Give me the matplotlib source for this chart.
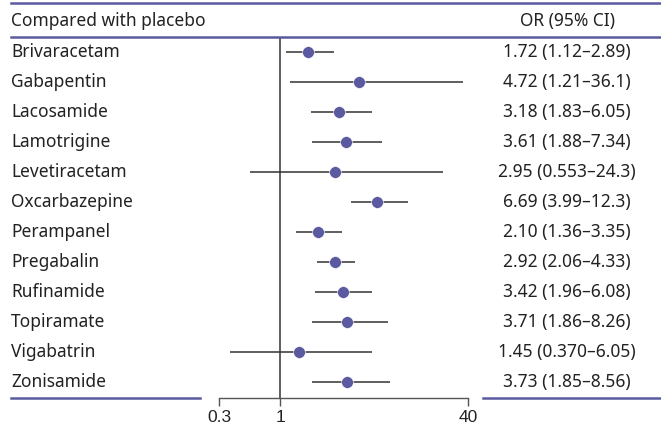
import numpy as np
import matplotlib
matplotlib.use("Agg")
import matplotlib.pyplot as plt
from matplotlib.lines import Line2D

plt.rcParams['font.family'] = ['Noto Sans', 'DejaVu Sans']

drugs = ["Brivaracetam", "Gabapentin", "Lacosamide", "Lamotrigine", "Levetiracetam",
         "Oxcarbazepine", "Perampanel", "Pregabalin", "Rufinamide", "Topiramate",
         "Vigabatrin", "Zonisamide"]
odds = [1.72, 4.72, 3.18, 3.61, 2.95, 6.69, 2.10, 2.92, 3.42, 3.71, 1.45, 3.73]
ci_low = [1.12, 1.21, 1.83, 1.88, 0.553, 3.99, 1.36, 2.06, 1.96, 1.86, 0.370, 1.85]
ci_high = [2.89, 36.1, 6.05, 7.34, 24.3, 12.3, 3.35, 4.33, 6.08, 8.26, 6.05, 8.56]
ci_text = ["1.72 (1.12\u20132.89)", "4.72 (1.21\u201336.1)", "3.18 (1.83\u20136.05)",
           "3.61 (1.88\u20137.34)", "2.95 (0.553\u201324.3)", "6.69 (3.99\u201312.3)",
           "2.10 (1.36\u20133.35)", "2.92 (2.06\u20134.33)", "3.42 (1.96\u20136.08)",
           "3.71 (1.86\u20138.26)", "1.45 (0.370\u20136.05)", "3.73 (1.85\u20138.56)"]
xticks = [0.3, 1, 40]
xtick_labels = ["0.3", "1", "40"]

W, H = 661, 428
purple = "#5b599f"
dark = "#333333"
txt = "#222222"

fig = plt.figure(figsize=(W / 100, H / 100), dpi=100)


def fx(x):
    return x / W


def fy(y):
    return 1 - y / H


# plot area in pixels
left_px, right_px, top_px, bot_px = 219, 468, 38, 398
ax = fig.add_axes([fx(left_px), fy(bot_px), fx(right_px - left_px), (bot_px - top_px) / H])
ax.set_xscale("log")
ax.set_xlim(0.3, 40)
row0, step = 52, 30
ax.set_ylim((bot_px - row0) / step, (top_px - row0) / step)

y = np.arange(len(drugs))
ax.hlines(y, ci_low, ci_high, color=dark, lw=1.1, zorder=2, clip_on=False)
ax.plot(odds, y, "o", color=purple, ms=8.5, mec="white", mew=0.4, zorder=3, clip_on=False)
ax.axvline(1, color=dark, lw=1.1, zorder=1)

for s in ["left", "right", "top"]:
    ax.spines[s].set_visible(False)
ax.spines["bottom"].set_color("#555555")
ax.spines["bottom"].set_linewidth(1.0)
ax.set_yticks([])
ax.set_xticks(xticks)
ax.set_xticklabels(xtick_labels, family=["Liberation Sans", "DejaVu Sans"])
ax.minorticks_off()
ax.tick_params(axis="x", direction="out", length=6, width=1, color="#555555",
               labelsize=12.5, labelcolor=txt, pad=3)

# table text
fs = 12.5
fig.text(fx(11), fy(21), "Compared with placebo", fontsize=fs, color=txt, va="center", ha="left")
fig.text(fx(567), fy(21), "OR (95% CI)", fontsize=fs, color=txt, va="center", ha="center")
for i, name in enumerate(drugs):
    yy = fy(row0 + step * i)
    fig.text(fx(11), yy, name, fontsize=fs, color=txt, va="center", ha="left")
    fig.text(fx(567), yy, ci_text[i], fontsize=fs, color=txt, va="center", ha="center")

# purple rules
for x0, x1, yy in [(11, 661, 3), (11, 661, 37), (11, 200, 398), (483, 661, 398)]:
    fig.add_artist(Line2D([fx(x0), fx(x1)], [fy(yy), fy(yy)], color=purple, lw=1.8))

fig.savefig("out.png", dpi=100)
